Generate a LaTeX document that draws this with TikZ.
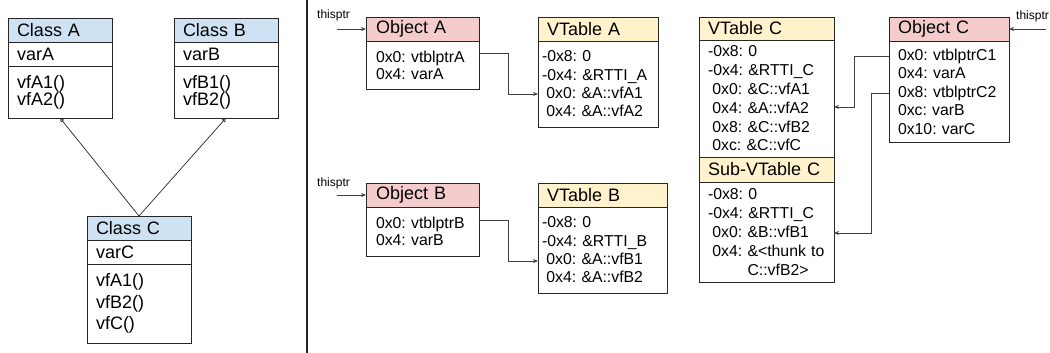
\documentclass[tikz,border=0pt]{standalone}
\usepackage{fontspec}
\setmainfont{Liberation Sans}
\usetikzlibrary{arrows.meta}
\definecolor{clsfill}{HTML}{CFE2F3}
\definecolor{objfill}{HTML}{F4CCCC}
\definecolor{vtfill}{HTML}{FFF2CC}
\definecolor{edge}{HTML}{262626}
\definecolor{wire}{HTML}{404040}
\newcommand{\lead}{\hspace*{4.4pt}}
\begin{document}
\begin{tikzpicture}[x=1pt,y=-1pt,
  every node/.append style={execute at begin node={\frenchspacing\hyphenpenalty=10000\relax}},
  cell/.style={draw=edge, line width=0.8pt, rectangle, anchor=north west,
    outer sep=0pt, inner ysep=0pt, align=left},
  clshdr/.style={cell, fill=clsfill, font=\fontsize{18}{20}\selectfont,
    inner xsep=9pt, text width=86pt, minimum height=24pt},
  clsrow/.style={cell, font=\fontsize{18}{#1}\selectfont,
    inner xsep=9pt, text width=86pt},
  objhdr/.style={cell, fill=objfill, font=\fontsize{18}{20}\selectfont,
    minimum height=24pt},
  vthdr/.style={cell, fill=vtfill, font=\fontsize{18}{20}\selectfont},
  mem/.style={cell, font=\fontsize{15.8}{#1}\selectfont},
  tag/.style={anchor=base west, font=\fontsize{12}{14}\selectfont, inner sep=0pt},
  conn/.style={draw=wire, line width=0.8pt, -{Stealth[length=5pt,width=4pt]}},
  inh/.style={draw=edge, line width=0.7pt, -{Triangle[open,length=4pt,width=4pt]}}
]
\useasboundingbox (0,0) rectangle (1050,353);

% class hierarchy
\node[clshdr] (cAh) at (8,18) {Class A};
\node[clsrow=20, minimum height=24pt] (cAa) at (cAh.south west) {varA};
\node[clsrow=17, minimum height=52pt] (cAm) at (cAa.south west) {vfA1()\\vfA2()};

\node[clshdr] (cBh) at (174,18) {Class B};
\node[clsrow=20, minimum height=24pt] (cBa) at (cBh.south west) {varB};
\node[clsrow=17, minimum height=52pt] (cBm) at (cBa.south west) {vfB1()\\vfB2()};

\node[clshdr] (cCh) at (87,216) {Class C};
\node[clsrow=20, minimum height=24pt] (cCa) at (cCh.south west) {varC};
\node[clsrow=21.5, minimum height=79pt] (cCm) at (cCa.south west) {vfA1()\\vfB2()\\vfC()};

\draw[inh] (cCh.north) -- (cAm.south);
\draw[inh] (cCh.north) -- (cBm.south);

% separator
\draw[draw=edge, line width=1.2pt] (307,0) -- (307,353);

% object A and its vtable
\node[objhdr, inner xsep=10pt, text width=93pt] (oAh) at (366,17) {Object A};
\node[mem=17, inner xsep=10pt, text width=93pt, minimum height=48pt] (oAb) at (oAh.south west)
  {0x0: vtblptrA\\0x4: varA};
\node[vthdr, inner xsep=9pt, text width=102pt, minimum height=24pt] (vAh) at (538,17) {VTable A};
\node[mem=18.3, inner xsep=4pt, text width=112pt, minimum height=86pt] (vAb) at (vAh.south west)
  {-0x8: 0\\-0x4: \&RTTI\_A\\\lead 0x0: \&A::vfA1\\\lead 0x4: \&A::vfA2};

\node[tag] (tpA) at (317,19) {thisptr};
\coordinate (tpAin) at (337,29);
\draw[conn] (tpAin) -- (oAh.west);
\draw[conn] ([yshift=-12pt]oAb.north east) -- ++(29,0) |- ([yshift=-10pt]vAb.west);

% object B and its vtable
\node[objhdr, inner xsep=10pt, text width=93pt] (oBh) at (366,183) {Object B};
\node[mem=17, inner xsep=10pt, text width=93pt, minimum height=49pt] (oBb) at (oBh.south west)
  {0x0: vtblptrB\\0x4: varB};
\node[vthdr, inner xsep=9pt, text width=111pt, minimum height=24pt] (vBh) at (538,183) {VTable B};
\node[mem=18.3, inner xsep=4pt, text width=121pt, minimum height=86pt] (vBb) at (vBh.south west)
  {-0x8: 0\\-0x4: \&RTTI\_B\\\lead 0x0: \&A::vfB1\\\lead 0x4: \&A::vfB2};

\node[tag] (tpB) at (317,186) {thisptr};
\coordinate (tpBin) at (337,195);
\draw[conn] (tpBin) -- (oBh.west);
\draw[conn] ([yshift=-13pt]oBb.north east) -- ++(29,0) |- ([yshift=-11pt]vBb.west);

% object C with its vtable and sub-vtable
\node[vthdr, inner xsep=9pt, text width=117pt, minimum height=23pt] (vCh) at (699,17) {VTable C};
\node[mem=18.8, inner xsep=9pt, text width=117pt, minimum height=117pt] (vCb) at (vCh.south west)
  {-0x8: 0\\-0x4: \&RTTI\_C\\\lead 0x0: \&C::vfA1\\\lead 0x4: \&A::vfA2\\\lead 0x8: \&C::vfB2\\\lead 0xc: \&C::vfC};
\node[vthdr, inner xsep=9pt, text width=117pt, minimum height=25pt] (sCh) at (vCb.south west) {Sub-VTable C};
\node[mem=19, inner xsep=9pt, text width=117pt, minimum height=100pt] (sCb) at (sCh.south west)
  {-0x8: 0\\-0x4: \&RTTI\_C\\\lead 0x0: \&B::vfB1\\\lead 0x4: \&<thunk to\\\lead\hphantom{0x4: }C::vfB2>};

\node[objhdr, inner xsep=9pt, text width=102pt] (oCh) at (889,17) {Object C};
\node[mem=18.5, inner xsep=9pt, text width=102pt, minimum height=101pt] (oCb) at (oCh.south west)
  {0x0: vtblptrC1\\0x4: varA\\0x8: vtblptrC2\\0xc: varB\\0x10: varC};

\node[tag] (tpC) at (1016,20) {thisptr};
\coordinate (tpCin) at (1046,29);
\draw[conn] (tpCin) -- (oCh.east);
\draw[conn] ([yshift=-15pt]oCb.north west) -- ++(-35,0) |- ([yshift=-8.5pt]vCb.east);
\draw[conn] ([yshift=-52pt]oCb.north west) -- ++(-18,0) |- ([yshift=-1pt]sCb.east);
\end{tikzpicture}
\end{document}
